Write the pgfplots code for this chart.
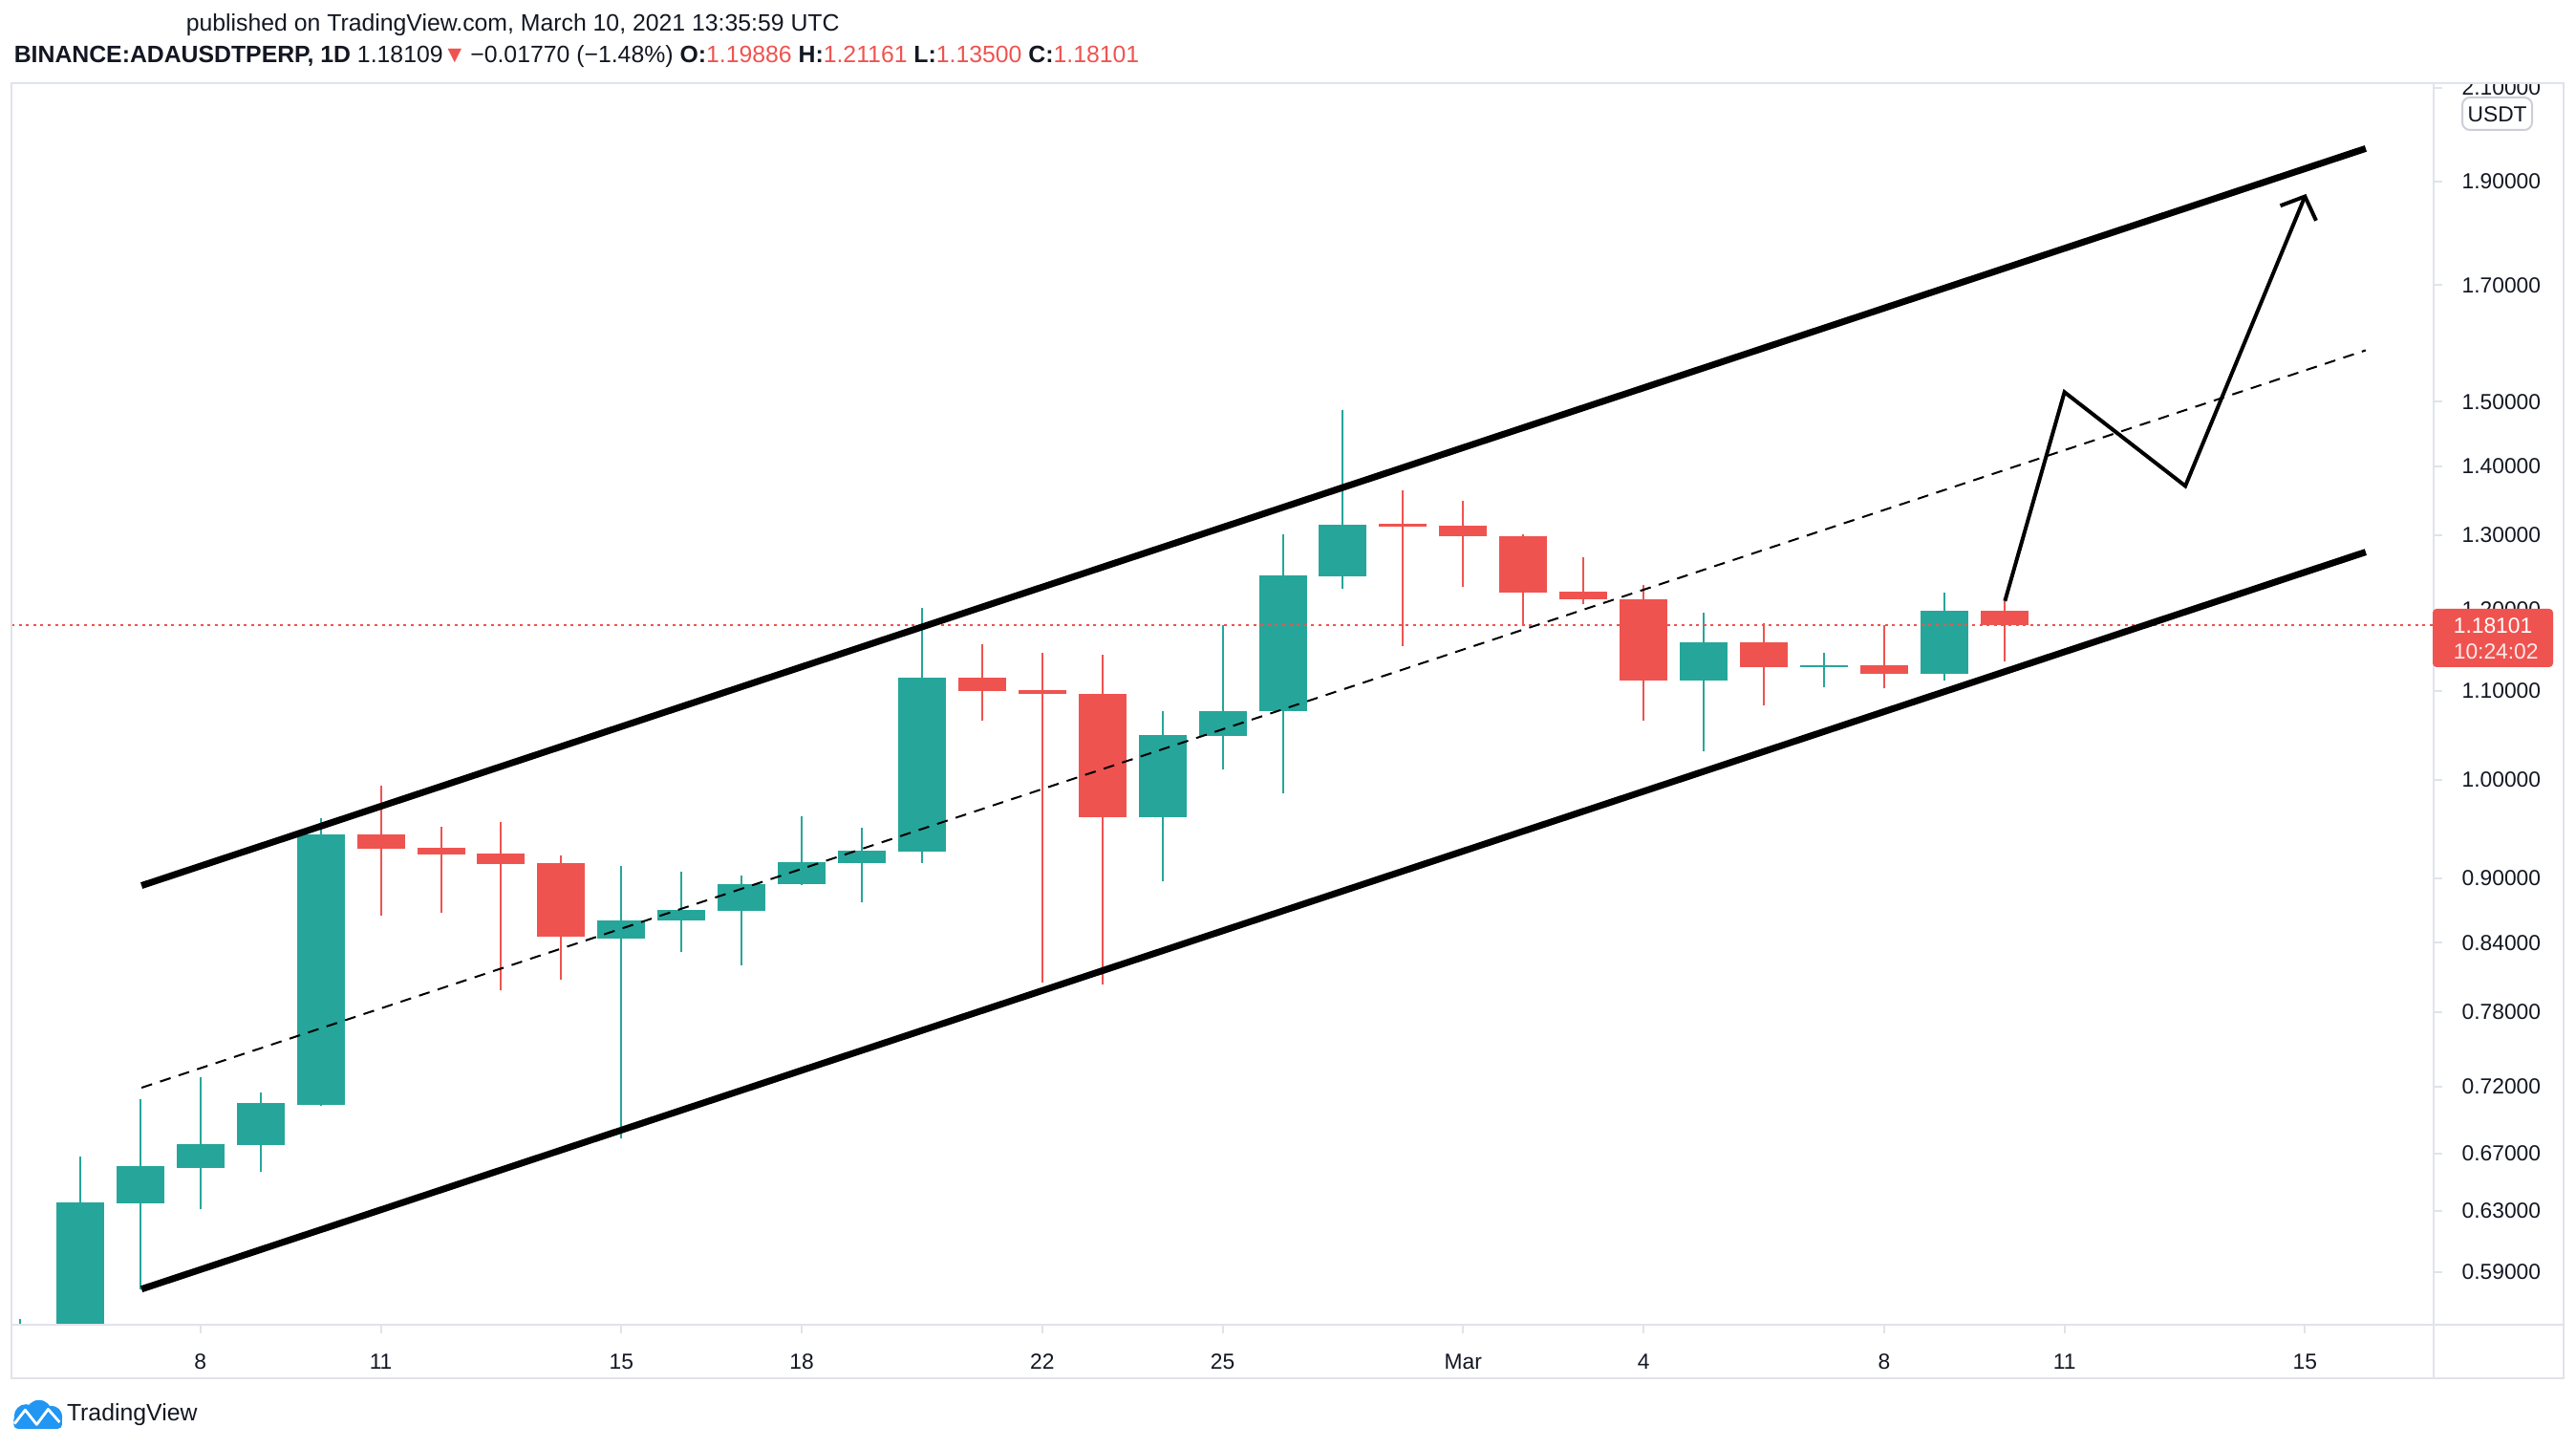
\documentclass[border=0pt]{standalone}
\usepackage{pgfplots}
\pgfplotsset{compat=1.18}
\usepackage{pgfplotstable}
\usepackage{fontspec}
\setmainfont{Liberation Sans}
\definecolor{tvteal}{HTML}{26A69A}
\definecolor{tvred}{HTML}{EF5350}
\definecolor{tvtext}{HTML}{131722}
\definecolor{tvgrid}{HTML}{E0E3EB}
\definecolor{tvblue}{HTML}{2196F3}
\newcommand\tvtick{\fontsize{5.7}{6.8}\selectfont}
\newcommand\tvhead{\fontsize{6.2}{7.4}\selectfont}

% daily candles, x = day (Feb 8 = 8, Mar 1 = 29)
\pgfplotstableread{
x  o      h      l      c
5  0.500  0.561  0.490  0.540
6  0.545  0.668  0.530  0.636
7  0.635  0.710  0.579  0.661
8  0.660  0.727  0.631  0.677
9  0.676  0.715  0.657  0.707
10 0.706  0.960  0.705  0.943
15 0.844  0.912  0.681  0.860
16 0.860  0.906  0.832  0.870
17 0.869  0.903  0.820  0.894
18 0.894  0.962  0.893  0.916
19 0.915  0.950  0.877  0.927
20 0.926  1.203  0.915  1.116
24 0.961  1.077  0.897  1.049
25 1.048  1.181  1.011  1.077
26 1.076  1.301  0.986  1.245
27 1.244  1.487  1.228  1.315
33 1.112  1.196  1.031  1.159
35 1.128  1.146  1.105  1.131
37 1.120  1.222  1.112  1.199
}\upcandles

\pgfplotstableread{
x  o       h       l       c
11 0.943   0.994   0.865   0.929
12 0.930   0.951   0.8675  0.9235
13 0.924   0.956   0.798   0.914
14 0.915   0.922   0.8075  0.845
21 1.1156  1.157   1.066   1.1005
22 1.101   1.146   0.805   1.097
23 1.097   1.144   0.803   0.961
28 1.316   1.364   1.154   1.312
29 1.313   1.349   1.230   1.298
30 1.298   1.301   1.181   1.223
31 1.224   1.270   1.207   1.213
32 1.214   1.232   1.066   1.112
34 1.159   1.183   1.083   1.129
36 1.131   1.180   1.103   1.120
38 1.19886 1.21161 1.13500 1.18101
}\downcandles

\pgfplotsset{
  candle/.style n args={2}{only marks, mark=*, mark size=0pt,
    mark options={draw=none, fill=none}, forget plot,
    error bars/.cd, y dir=plus, y explicit, error mark=none,
    error bar style={line width=#2, draw=#1}},
}

\begin{document}
\begin{tikzpicture}[x=1pt,y=1pt]
\useasboundingbox (0,0) rectangle (674,379);
\begin{axis}[
  at={(3pt,32.5pt)}, anchor=south west,
  width=633.75pt, height=324.75pt, scale only axis,
  xmin=4.857, xmax=45.14, ymin=0.5577, ymax=2.1105,
  ymode=log,
  axis line style={draw=tvgrid, line width=0.5pt},
  ytick={0.59,0.63,0.67,0.72,0.78,0.84,0.9,1.0,1.1,1.2,1.3,1.4,1.5,1.7,1.9,2.1},
  yticklabels={0.59000,0.63000,0.67000,0.72000,0.78000,0.84000,0.90000,1.00000,1.10000,1.20000,1.30000,1.40000,1.50000,1.70000,1.90000,2.10000},
  xtick={8,11,15,18,22,25,29,32,36,39,43},
  xticklabels={8,11,15,18,22,25,Mar,4,8,11,15},
  yminorticks=false, xminorticks=false,
  ytick pos=right, yticklabel pos=right,
  xtick pos=bottom,
  tick align=outside,
  major tick length=2.2pt,
  tick style={draw=tvgrid, line width=0.5pt},
  yticklabel style={font=\tvtick, text=tvtext, anchor=west, inner sep=0pt, xshift=5pt},
  xticklabel style={font=\tvtick, text=tvtext, anchor=north, inner sep=0pt, yshift=-5.2pt},
]
% wicks
\addplot[candle={tvteal}{0.5pt}]
  table[x=x, y=l, y error plus expr=\thisrow{h}-\thisrow{l}] {\upcandles};
\addplot[candle={tvred}{0.5pt}]
  table[x=x, y=l, y error plus expr=\thisrow{h}-\thisrow{l}] {\downcandles};
% bodies
\addplot[candle={tvteal}{12.5pt}]
  table[x=x, y=o, y error plus expr=\thisrow{c}-\thisrow{o}] {\upcandles};
\addplot[candle={tvred}{12.5pt}]
  table[x=x, y=c, y error plus expr=\thisrow{o}-\thisrow{c}] {\downcandles};

% last price line
\addplot[tvred, line width=0.5pt, dash pattern=on 0.75pt off 1.15pt]
  coordinates {(4.857,1.18101) (45.14,1.18101)};

% channel drawings
\addplot[black, line width=1.75pt] coordinates {(7.02,0.8929) (44.01,1.968)};
\addplot[black, line width=1.75pt] coordinates {(7.02,0.5794) (44.01,1.2767)};
\addplot[black, line width=0.5pt, dash pattern=on 2.9pt off 2.2pt]
  coordinates {(7.02,0.719) (44.01,1.585)};
% projected path
\addplot[black, line width=1pt, line join=miter]
  coordinates {(38.01,1.2114) (39.0,1.5154) (41.01,1.3704) (43.0,1.8694)};
\addplot[black, line width=1pt, line join=miter]
  coordinates {(42.59,1.8507) (43.0,1.8694) (43.185,1.8215)};
\end{axis}

% cover top of clipped label, frame of panes
\fill[white] (637.2,357.3) rectangle (674,363);
\draw[tvgrid, line width=0.5pt] (3,18.5) rectangle (670.75,357.25);
\draw[tvgrid, line width=0.5pt] (636.75,18.5) -- (636.75,357.25);
\draw[tvgrid, line width=0.5pt] (3,32.5) -- (670.75,32.5);

% last price label
\fill[tvred, rounded corners=1pt] (636.5,204.5) rectangle (668,219.75);
\node[anchor=west, inner sep=0pt, font=\tvtick, text=white] at (641.75,215.4) {1.18101};
\node[anchor=west, inner sep=0pt, font=\tvtick, text=white!88!tvred] at (641.75,208.7) {10:24:02};

% currency badge
\draw[draw=tvgrid!80!gray, fill=white, line width=0.5pt, rounded corners=2pt] (644.25,345) rectangle (662.5,353.5);
\node[inner sep=0pt, font=\tvtick, text=tvtext] at (653.4,349.2) {USDT};

% header
\node[anchor=base west, inner sep=0pt, font=\tvhead, text=tvtext] at (48.5,370.8)
  {published on TradingView.com, March 10, 2021 13:35:59 UTC};
\node[anchor=base west, inner sep=0pt, font=\tvhead, text=tvtext] at (3.5,362.5)
  {\textbf{BINANCE:ADAUSDTPERP, 1D}\ 1.18109\textcolor{tvred}{▼}\,−0.01770 (−1.48\%)\ \textbf{O:}\textcolor{tvred}{1.19886}\ \textbf{H:}\textcolor{tvred}{1.21161}\ \textbf{L:}\textcolor{tvred}{1.13500}\ \textbf{C:}\textcolor{tvred}{1.18101}};

% TradingView logo
\begin{scope}
  \fill[tvblue] (6.8,8.6) circle (3.1);
  \fill[tvblue] (10.2,9.4) circle (3.4);
  \fill[tvblue] (13.4,8.4) circle (2.9);
  \fill[tvblue, rounded corners=1pt] (3.6,5.3) rectangle (16.2,8.8);
  \draw[white, line width=0.7pt, line join=round] (3.8,6.6) -- (6.6,10.2) -- (9.6,6.4) -- (12.6,10.4) -- (15.6,7.0);
\end{scope}
\node[anchor=west, inner sep=0pt, font=\tvhead, text=tvtext] at (17.3,9.0) {TradingView};
\end{tikzpicture}
\end{document}
